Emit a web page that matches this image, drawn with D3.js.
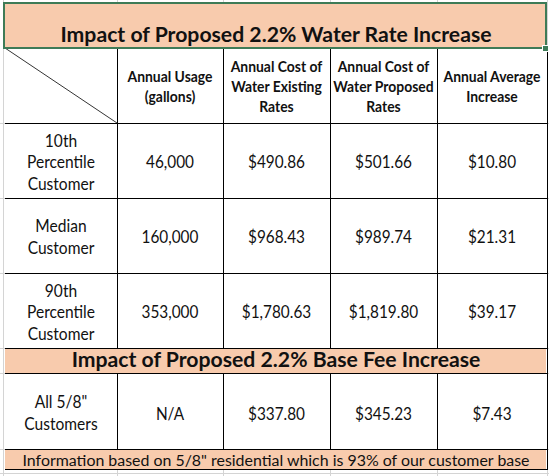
<!DOCTYPE html>
<html><head><meta charset="utf-8">
<script src="https://cdn.jsdelivr.net/npm/d3@7"></script>
<style>
html,body{margin:0;padding:0;background:#fff;}
svg{display:block;}
text{font-family:Lato,"Open Sans",sans-serif;fill:#111;}
</style></head>
<body>
<svg id="chart" width="549" height="476"></svg>
<script>
// ---- data ----
const title = "Impact of Proposed 2.2% Water Rate Increase";
const baseFeeTitle = "Impact of Proposed 2.2% Base Fee Increase";
const footnote = "Information based on 5/8\" residential which is 93% of our customer base";
const headerLabels = [
  ["Annual Usage", "(gallons)"],
  ["Annual Cost of", "Water Existing", "Rates"],
  ["Annual Cost of", "Water Proposed", "Rates"],
  ["Annual Average", "Increase"]
];
const rowLabels = [
  ["10th", "Percentile", "Customer"],
  ["Median", "Customer"],
  ["90th", "Percentile", "Customer"]
];
const usage    = ["46,000", "160,000", "353,000"];
const existing = ["$490.86", "$968.43", "$1,780.63"];
const proposed = ["$501.66", "$989.74", "$1,819.80"];
const increase = ["$10.80", "$21.31", "$39.17"];
const baseFeeLabel = ["All 5/8\"", "Customers"];
const baseFeeValues = ["N/A", "$337.80", "$345.23", "$7.43"];

// ---- layout ----
const svg = d3.select("#chart");
const colX = [5, 117, 223, 330, 437, 547];
const peach = "#F8CBAD";
const grid = "#d4d4d4";
const rowsY = { r: [[123, 198], [198, 273], [273, 348]] };

// font styles: size chosen by glyph height, horizontal scale chosen to match reference widths
function measure(str, size, weight) {
  const t = svg.append("text").attr("font-size", size).attr("font-weight", weight).text(str);
  const w = t.node().getComputedTextLength();
  t.remove();
  return w;
}
function style(size, weight, refStr, refWidth) {
  return { size, weight, k: refWidth / measure(refStr, size, weight) };
}
const titleStyle = style(21.2, "bold", title, 435);
const headerStyle = style(14.6, "bold", "Annual Average", 97);
const bodyStyle = style(17.6, "normal", "$490.86", 57);
const labelStyle = style(17.6, "normal", "Percentile", 68);
const footStyle = style(15.5, "normal", footnote, 507);

function addText(str, x, y, st, baseline) {
  const t = svg.append("text").attr("x", x).attr("y", y)
    .attr("text-anchor", "middle")
    .attr("font-size", st.size).attr("font-weight", st.weight).text(str);
  if (baseline) t.attr("dominant-baseline", baseline);
  const w = t.node().getComputedTextLength();
  if (Math.abs(st.k - 1) > 0.01) t.attr("textLength", w * st.k).attr("lengthAdjust", "spacingAndGlyphs");
  return t;
}

// background gridlines (spreadsheet)
const gridLines = svg.append("g").attr("stroke", grid).attr("stroke-width", 1);
gridLines.append("line").attr("x1", 3.5).attr("x2", 3.5).attr("y1", 0).attr("y2", 476);
colX.slice(1).forEach(x => gridLines.append("line").attr("x1", x + 0.5).attr("x2", x + 0.5).attr("y1", 0).attr("y2", 476));
[123, 198, 273, 348, 373, 449, 473].forEach(y => gridLines.append("line").attr("x1", 0).attr("x2", 549).attr("y1", y + 0.5).attr("y2", y + 0.5));

// white cells
svg.append("rect").attr("x", colX[0]).attr("y", 48).attr("width", colX[5] - colX[0]).attr("height", 422).attr("fill", "#fff");

// peach bands
[[3, 48], [348, 373], [449, 470]].forEach(([y0, y1]) =>
  svg.append("rect").attr("x", colX[0]).attr("y", y0).attr("width", colX[5] - colX[0] - 1).attr("height", y1 - y0).attr("fill", peach));

// borders
const b = svg.append("g").attr("stroke", "#000").attr("stroke-width", 1).attr("shape-rendering", "crispEdges");
function hline(y, x0 = colX[0], x1 = colX[5]) { b.append("line").attr("x1", x0).attr("x2", x1).attr("y1", y + 0.5).attr("y2", y + 0.5); }
function vline(x, y0, y1) { b.append("line").attr("x1", x + 0.5).attr("x2", x + 0.5).attr("y1", y0).attr("y2", y1); }
[48, 123, 198, 273, 348, 373, 449, 469].forEach(y => hline(y));
colX.slice(1, 5).forEach(x => { vline(x, 48, 348); vline(x, 373, 449); });
vline(colX[5], 48, 470);
// diagonal in corner header
svg.append("line").attr("x1", colX[0]).attr("y1", 48).attr("x2", colX[1]).attr("y2", 123).attr("stroke", "#000").attr("stroke-width", 0.8);

function cellText(lines, cx, cy, st, lh) {
  const n = lines.length;
  lines.forEach((s, i) => addText(s, cx, cy + (i - (n - 1) / 2) * lh, st, "central"));
}
const colC = i => (colX[i] + colX[i + 1]) / 2;
const midX = (colX[0] + colX[5]) / 2;

// title
addText(title, midX, 42, titleStyle);
// header
headerLabels.forEach((lines, i) => cellText(lines, colC(i + 1), 86.5, headerStyle, 20));
// rows
const cols = [usage, existing, proposed, increase];
rowLabels.forEach((lines, r) => {
  const [y0, y1] = rowsY.r[r];
  const cy = (y0 + y1) / 2 + 1;
  cellText(lines, colC(0), cy, labelStyle, 21.5);
  cols.forEach((arr, c) => cellText([arr[r]], colC(c + 1), cy, bodyStyle, 21.5));
});
// banner
addText(baseFeeTitle, midX, 367, titleStyle);
// base fee row
cellText(baseFeeLabel, colC(0), 412.5, labelStyle, 21.5);
baseFeeValues.forEach((v, c) => cellText([v], colC(c + 1), 413, bodyStyle, 21.5));
// footnote
addText(footnote, midX, 466, footStyle);

// selection border around title
svg.append("rect").attr("x", 4).attr("y", 3).attr("width", 542).attr("height", 45)
  .attr("fill", "none").attr("stroke", "#3E7B57").attr("stroke-width", 2);
svg.append("rect").attr("x", 542.5).attr("y", 45.5).attr("width", 6).attr("height", 6)
  .attr("fill", "#3E7B57").attr("stroke", "#fff").attr("stroke-width", 1);
</script>
</body></html>
